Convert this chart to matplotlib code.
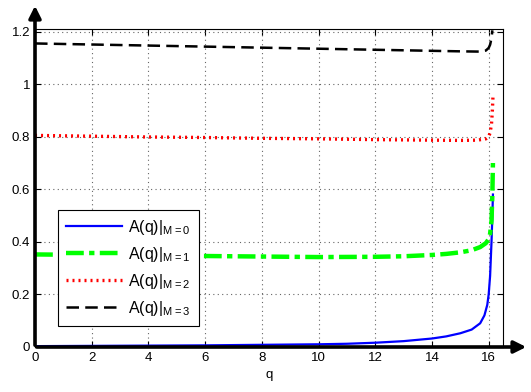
import matplotlib
matplotlib.use("Agg")
import matplotlib.pyplot as plt

plt.rcParams["font.family"] = ["Liberation Sans", "DejaVu Sans"]
plt.rcParams["mathtext.default"] = "regular"

# values
q_m0 = [0, 2, 4, 6, 8, 10, 11, 12, 13, 14, 14.5, 15, 15.4, 15.7, 15.85, 15.95, 16.0, 16.05, 16.1, 16.13, 16.15]
a_m0 = [0.003, 0.004, 0.005, 0.006, 0.008, 0.010, 0.012, 0.016, 0.022, 0.032, 0.040, 0.052, 0.066, 0.09, 0.12, 0.16, 0.20, 0.27, 0.40, 0.50, 0.58]

q_m1 = [0, 2, 4, 6, 8, 10, 12, 13, 14, 14.5, 15, 15.4, 15.7, 15.9, 16.0, 16.05, 16.1, 16.13, 16.15]
a_m1 = [0.352, 0.350, 0.348, 0.346, 0.344, 0.342, 0.343, 0.345, 0.350, 0.354, 0.360, 0.368, 0.380, 0.395, 0.41, 0.43, 0.48, 0.58, 0.70]

q_m2 = [0, 2, 4, 6, 8, 10, 12, 14, 15, 15.6, 15.9, 16.0, 16.05, 16.1, 16.13, 16.15]
a_m2 = [0.805, 0.802, 0.799, 0.797, 0.794, 0.792, 0.789, 0.787, 0.786, 0.787, 0.792, 0.800, 0.815, 0.85, 0.90, 0.95]

q_m3 = [0, 2, 4, 6, 8, 10, 12, 14, 15, 15.7, 15.9, 16.0, 16.05, 16.1, 16.13]
a_m3 = [1.155, 1.151, 1.147, 1.143, 1.139, 1.135, 1.131, 1.127, 1.125, 1.124, 1.128, 1.138, 1.150, 1.175, 1.205]

labels = [r"A(q)$|_{M=0}$", r"A(q)$|_{M=1}$", r"A(q)$|_{M=2}$", r"A(q)$|_{M=3}$"]
x_ticks = [0, 2, 4, 6, 8, 10, 12, 14, 16]
y_ticks = [0, 0.2, 0.4, 0.6, 0.8, 1.0, 1.2]
y_tick_labels = ["0", "0.2", "0.4", "0.6", "0.8", "1", "1.2"]

fig = plt.figure(figsize=(5.31, 3.92), dpi=100)
ax = fig.add_axes([0.066, 0.115, 0.881, 0.811])

ax.plot(q_m0, a_m0, color="#0000ff", lw=1.6, label=labels[0])
ax.plot(q_m1, a_m1, color="#00ff00", lw=3.2, dashes=(4, 1.2, 1.2, 1.2), label=labels[1])
ax.plot(q_m2, a_m2, color="#ff0000", lw=2.4, dashes=(0.6, 1.2), label=labels[2])
ax.plot(q_m3, a_m3, color="black", lw=1.8, dashes=(5, 2.5), label=labels[3])

ax.set_xlim(0, 16.5)
ax.set_ylim(0, 1.21)
ax.set_xticks(x_ticks)
ax.set_yticks(y_ticks)
ax.set_yticklabels(y_tick_labels)
ax.tick_params(direction="in", top=True, right=True, labelsize=9.5, length=4)
ax.grid(True, color="#666666", linestyle=(0, (1, 3)), linewidth=0.8)
for s in ax.spines.values():
    s.set_linewidth(0.8)
ax.set_xlabel("q", fontsize=9.5, labelpad=4)

leg = ax.legend(loc="lower left", bbox_to_anchor=(0.049, 0.066), fontsize=11.5,
                handlelength=3.5, handletextpad=0.4, fancybox=False, edgecolor="black",
                framealpha=1, labelspacing=0.5, borderpad=0.5, borderaxespad=0)
leg.get_frame().set_linewidth(0.8)

# thick axis arrows
arrow = dict(arrowstyle="-|>", color="black", lw=2.6, mutation_scale=18)
ax.annotate("", xy=(35 / 531, 1 - 3 / 392), xytext=(35 / 531, 1 - 348 / 392),
            xycoords="figure fraction", textcoords="figure fraction", arrowprops=arrow)
ax.annotate("", xy=(529 / 531, 1 - 347 / 392), xytext=(34 / 531, 1 - 347 / 392),
            xycoords="figure fraction", textcoords="figure fraction", arrowprops=arrow)

fig.savefig("out.png", dpi=100)
